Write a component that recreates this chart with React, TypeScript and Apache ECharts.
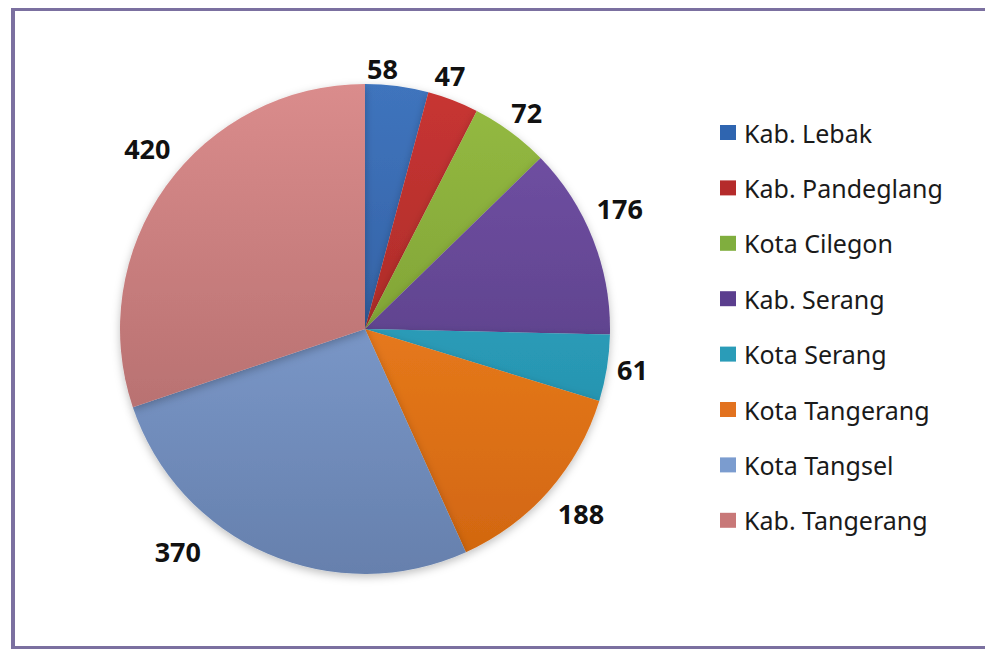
import { useEffect, useRef } from "react";
import * as echarts from "echarts";

const categories = [
  "Kab. Lebak",
  "Kab. Pandeglang",
  "Kota Cilegon",
  "Kab. Serang",
  "Kota Serang",
  "Kota Tangerang",
  "Kota Tangsel",
  "Kab. Tangerang",
];
const values = [58, 47, 72, 176, 61, 188, 370, 420];
const topColors = ["#3f74bd", "#c83533", "#95bb42", "#7453a8", "#35b0cc", "#fb8c28", "#8cace0", "#da8c8c"];
const bottomColors = ["#2a5290", "#952420", "#6f8f2c", "#4e3578", "#1f86a2", "#d0650f", "#6680ad", "#a86464"];
const legendColors = ["#2f65b0", "#b52b2b", "#80ae3e", "#5b3e8e", "#2a9cb8", "#e2721f", "#7b9ccf", "#c87878"];
// small label nudges (Excel "best fit" placement)
const labelNudges = [
  [-35, -10],
  [-53, -32],
  [-18, -24],
  [-4, -28],
  [2, 0],
  [-1, 17],
  [-59, -9],
  [15, -33],
];

const FRAME = "#7b70a0";

export default function App() {
  const ref = useRef<HTMLDivElement>(null);
  useEffect(() => {
    const chart = echarts.init(ref.current!, null, { renderer: "svg" });
    const cx = 365;
    const cy = 329;
    const r = 245;
    chart.setOption({
      animation: false,
      backgroundColor: "#ffffff",
      legend: {
        orient: "vertical",
        left: 720,
        top: 120,
        padding: 0,
        itemWidth: 16,
        itemHeight: 15,
        itemGap: 30.4,
        icon: "rect",
        textStyle: {
          fontFamily: "Noto Sans",
          fontSize: 25,
          color: "#1a1a1a",
          lineHeight: 25,
          padding: [0, 0, 0, 3],
        },
        data: categories.map((name, i) => ({ name, itemStyle: { color: legendColors[i] } })),
      },
      graphic: [
        { type: "line", shape: { x1: 11, y1: 9.5, x2: 985, y2: 9.5 }, style: { stroke: FRAME, lineWidth: 3 } },
        { type: "line", shape: { x1: 13, y1: 8, x2: 13, y2: 649 }, style: { stroke: FRAME, lineWidth: 4 } },
        { type: "line", shape: { x1: 11, y1: 647.5, x2: 985, y2: 647.5 }, style: { stroke: FRAME, lineWidth: 3 } },
      ],
      series: [
        {
          type: "pie",
          center: [cx, cy],
          radius: r,
          startAngle: 90,
          clockwise: true,
          data: categories.map((name, i) => ({
            name,
            value: values[i],
            itemStyle: {
              color: new echarts.graphic.LinearGradient(
                0, cy - r, 0, cy + r,
                [
                  { offset: 0, color: topColors[i] },
                  { offset: 1, color: bottomColors[i] },
                ],
                true
              ),
            },
          })),
          itemStyle: {
            shadowBlur: 8,
            shadowColor: "rgba(0,0,0,0.25)",
            shadowOffsetY: 3,
          },
          label: {
            show: true,
            position: "outside",
            formatter: "{c}",
            fontFamily: "Noto Sans",
            fontWeight: "bold",
            fontSize: 27,
            color: "#111111",
            distanceToLabelLine: 4,
          },
          labelLine: { show: false, length: 8, length2: 0 },
          labelLayout: (params: any) => {
            const n = labelNudges[params.dataIndex] || [0, 0];
            return { dx: n[0], dy: n[1] };
          },
          emphasis: { disabled: true },
        },
      ],
    });
    return () => chart.dispose();
  }, []);
  return (
    <div
      ref={ref}
      style={{ position: "fixed", left: 0, top: 0, width: 985, height: 649 }}
    />
  );
}
